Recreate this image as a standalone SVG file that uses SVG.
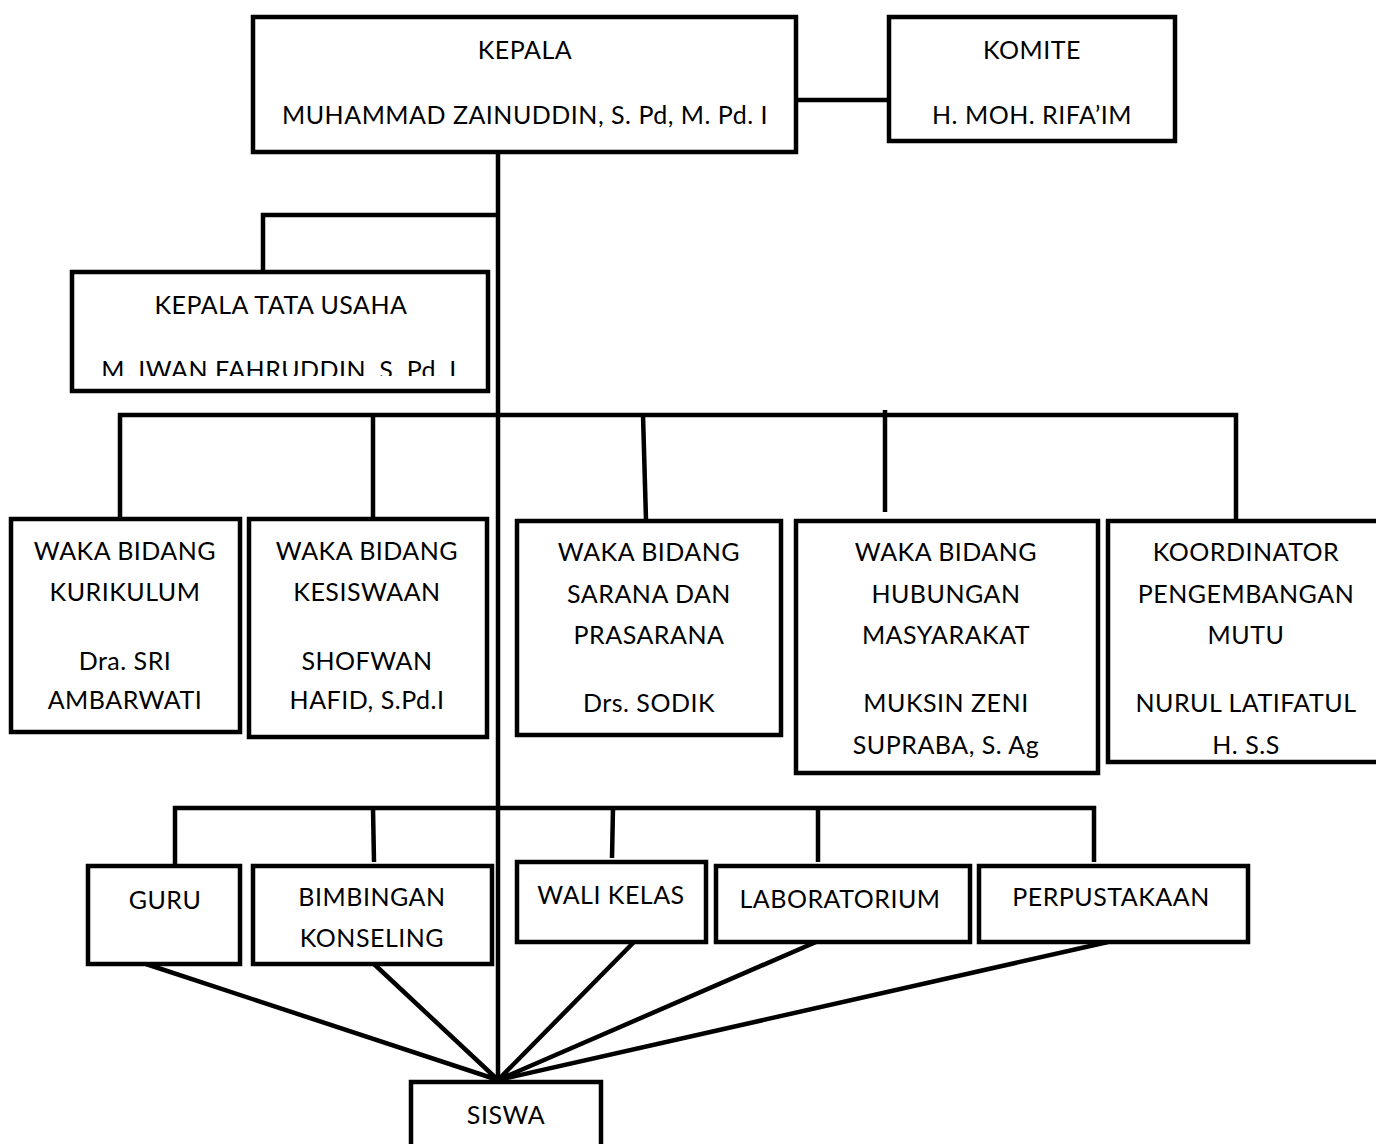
<svg xmlns="http://www.w3.org/2000/svg" width="1376" height="1144" viewBox="0 0 1376 1144">
<style>
.box{fill:#fff;stroke:#000;stroke-width:4.5}
.ln{fill:none;stroke:#000;stroke-width:4.5}
text{font-family:Lato,"Liberation Sans",sans-serif;font-size:25px;letter-spacing:0.5px;fill:#000;text-anchor:middle}
</style>
<defs>
<clipPath id="ktuClip"><rect x="72" y="272" width="416" height="104"/></clipPath>
</defs>
<rect width="1376" height="1144" fill="#fff"/>
<g id="connectors">
<path class="ln" d="M498 152V1080"/>
<path class="ln" d="M797 100H888"/>
<path class="ln" d="M498 215H263V272"/>
<path class="ln" d="M120 518V415H1236V520"/>
<path class="ln" d="M373 415V518"/>
<path class="ln" d="M643 415L646 520"/>
<path class="ln" d="M885 410V512"/>
<path class="ln" d="M175 866V808H1094V862"/>
<path class="ln" d="M373 808L374 862"/>
<path class="ln" d="M613 808L612 858"/>
<path class="ln" d="M818 808V862"/>
<path class="ln" d="M146 964L498 1080L374 964"/>
<path class="ln" d="M634 942L498 1080L816 942"/>
<path class="ln" d="M1108 942L498 1080"/>
</g>
<g id="kepala">
<rect class="box" x="253" y="17" width="543" height="135"/>
<text x="525" y="59">KEPALA</text>
<text x="525" y="124">MUHAMMAD ZAINUDDIN, S. Pd, M. Pd. I</text>
</g>
<g id="komite">
<rect class="box" x="889" y="17" width="286" height="124"/>
<text x="1032" y="59">KOMITE</text>
<text x="1032" y="124">H. MOH. RIFA’IM</text>
</g>
<g id="ktu">
<rect class="box" x="72" y="272" width="416" height="119"/>
<text x="281" y="314">KEPALA TATA USAHA</text>
<text x="279" y="379" clip-path="url(#ktuClip)">M. IWAN FAHRUDDIN, S. Pd. I</text>
</g>
<g id="waka-kurikulum">
<rect class="box" x="11" y="519" width="229" height="213"/>
<text x="125" y="560">WAKA BIDANG</text>
<text x="125" y="601">KURIKULUM</text>
<text x="125" y="670">Dra. SRI</text>
<text x="125" y="709">AMBARWATI</text>
</g>
<g id="waka-kesiswaan">
<rect class="box" x="249" y="519" width="238" height="218"/>
<text x="367" y="560">WAKA BIDANG</text>
<text x="367" y="601">KESISWAAN</text>
<text x="367" y="670">SHOFWAN</text>
<text x="367" y="709">HAFID, S.Pd.I</text>
</g>
<g id="waka-sarana">
<rect class="box" x="517" y="521" width="264" height="214"/>
<text x="649" y="561">WAKA BIDANG</text>
<text x="649" y="603">SARANA DAN</text>
<text x="649" y="644">PRASARANA</text>
<text x="649" y="712">Drs. SODIK</text>
</g>
<g id="waka-humas">
<rect class="box" x="796" y="521" width="302" height="252"/>
<text x="946" y="561">WAKA BIDANG</text>
<text x="946" y="603">HUBUNGAN</text>
<text x="946" y="644">MASYARAKAT</text>
<text x="946" y="712">MUKSIN ZENI</text>
<text x="946" y="754">SUPRABA, S. Ag</text>
</g>
<g id="koordinator-mutu">
<rect class="box" x="1108" y="521" width="280" height="241"/>
<text x="1246" y="561">KOORDINATOR</text>
<text x="1246" y="603">PENGEMBANGAN</text>
<text x="1246" y="644">MUTU</text>
<text x="1246" y="712">NURUL LATIFATUL</text>
<text x="1246" y="754">H. S.S</text>
</g>
<g id="guru">
<rect class="box" x="88" y="866" width="152" height="98"/>
<text x="165" y="909">GURU</text>
</g>
<g id="bk">
<rect class="box" x="253" y="866" width="239" height="98"/>
<text x="372" y="906">BIMBINGAN</text>
<text x="372" y="947">KONSELING</text>
</g>
<g id="wali-kelas">
<rect class="box" x="517" y="862" width="189" height="80"/>
<text x="611" y="904">WALI KELAS</text>
</g>
<g id="laboratorium">
<rect class="box" x="716" y="866" width="254" height="76"/>
<text x="840" y="908">LABORATORIUM</text>
</g>
<g id="perpustakaan">
<rect class="box" x="979" y="866" width="269" height="76"/>
<text x="1111" y="906">PERPUSTAKAAN</text>
</g>
<g id="siswa">
<rect class="box" x="411" y="1082" width="190" height="80"/>
<text x="506" y="1124">SISWA</text>
</g>
</svg>
